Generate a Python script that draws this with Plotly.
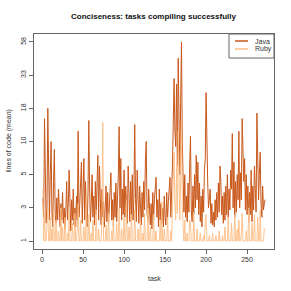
import numpy as np
import plotly.graph_objects as go

# Tick labels of the (transformed) y axis
tick_labels = [1, 3, 5, 10, 18, 33, 58]

# Mean lines of code per task
java = [
    3.5, 2.2, 15, 4, 1.8, 3, 18, 6, 2.0, 5,
    10, 2.6, 1.6, 4.5, 8.5, 2.4, 1.8, 3.5, 2.0, 4,
    2.6, 1.6, 3.2, 2.0, 3.8, 1.8, 3, 1.5, 2.8, 4.5,
    2.0, 3.2, 5.5, 1.8, 1.4, 3.4, 2.0, 4, 1.7, 3,
    1.6, 3.6, 2.0, 12, 2.2, 3.2, 4.2, 6.5, 1.8, 3.5,
    7, 2.0, 4.5, 2.4, 1.6, 3.8, 14.5, 4, 1.9, 3.2,
    5, 2.2, 3.6, 1.7, 4.5, 2.4, 5.5, 7.5, 2.0, 6,
    3.5, 1.7, 4, 2.2, 3.3, 1.6, 3, 4.2, 1.9, 3.8,
    1.8, 3, 4, 5.2, 2.0, 3.4, 1.6, 3.8, 2.2, 4.4,
    1.9, 3.2, 5, 13, 3.0, 7, 2.0, 4, 2.4, 5.5,
    2.2, 4.2, 2.8, 1.8, 6, 2.6, 1.9, 4.5, 2.4, 5,
    2.0, 3.6, 13.5, 3.4, 1.9, 5.5, 2.6, 1.8, 4.2, 2.4,
    1.7, 3.8, 2.2, 4.5, 2.8, 6.5, 10, 2.6, 1.9, 4,
    3.0, 1.7, 3.2, 1.5, 3.8, 2.0, 3.4, 4.2, 4.8, 2.2,
    3.4, 1.6, 4, 2.0, 3.2, 1.8, 3, 1.6, 3.6, 2.2,
    1.7, 3.8, 2.0, 3.3, 4.2, 4.8, 2.2, 3.5, 6, 14,
    31, 12, 9, 28, 6, 44, 15, 5, 20, 58,
    10, 4.5, 2.6, 5, 2.2, 3.6, 1.9, 4.4, 2.6, 6,
    11, 2.8, 1.9, 4.2, 2.4, 5, 3.0, 7.5, 3.4, 6.5,
    2.4, 4.4, 1.9, 3.6, 1.6, 4, 2.6, 5.5, 7, 24,
    6, 4.4, 3.0, 3.4, 4, 1.8, 3.2, 1.7, 2.6, 1.6,
    3.4, 2.0, 3.8, 2.2, 4.4, 2.6, 6, 4.5, 2.4, 3.6,
    1.8, 3.8, 2.0, 4.2, 2.4, 5, 2.2, 4, 2.8, 5.5,
    4, 11.5, 3.0, 6.5, 2.2, 4.5, 2.6, 5, 3.4, 12,
    3.0, 5.2, 3.4, 15, 9.5, 4.5, 7, 2.8, 5, 2.4,
    4.2, 1.9, 3.8, 2.4, 5.5, 1.9, 4.2, 2.8, 6, 4.4,
    2.6, 16.5, 7, 3.4, 5, 8, 3.2, 2.2, 4.2, 2.8,
    3.2, 3.4,
]

ruby = [
    4, 1, 2.5, 1, 1, 1.8, 3, 1, 1, 2.2,
    1, 1.5, 1, 2.8, 1, 1, 2, 1, 1, 1.4,
    1, 1, 3, 1, 1.6, 1, 1, 2.2, 1, 1,
    1.3, 1, 2.6, 1, 1, 1, 1.8, 1, 1, 2.5,
    1, 1, 1.5, 3.2, 1, 1, 2, 1, 1, 1,
    1.6, 1, 1, 3.7, 1, 1, 2.4, 1, 1, 1.3,
    1, 2, 1, 1, 1, 2.8, 1, 1, 1.5, 1,
    1, 1, 2.2, 14, 1, 1, 1, 1.7, 1, 1,
    2.5, 1, 1, 1, 1.4, 1, 2, 1, 1, 1,
    1.8, 1, 1, 3, 1, 1, 1.5, 1, 1, 2.2,
    1, 1, 3.4, 1, 1, 1.6, 1, 1, 2.4, 1,
    1, 1, 2.8, 1, 1, 1, 1.5, 1, 1, 2,
    1, 1, 1.3, 1, 2.5, 1, 1, 1, 3, 1,
    1, 1.6, 1, 1, 1, 2.4, 1, 1, 1.4, 1,
    1, 1, 1, 2, 1, 3.3, 1, 1, 1.5, 1,
    1, 1, 2.2, 1, 1, 1, 1.4, 1, 2.8, 4,
    8, 3, 2, 6, 2.5, 12, 4, 2, 5, 14,
    3, 1.5, 1, 2, 1, 1, 1.3, 1, 1, 2,
    1.7, 1, 1, 1, 2.6, 1, 1, 1, 1.5, 1,
    1, 1, 1.3, 1, 1, 1, 1.2, 1, 2, 2.4,
    1, 1, 1, 1.2, 1, 1, 1, 1.3, 1, 1,
    1, 1.2, 1, 1, 1, 1.4, 1, 1, 1, 1.2,
    1, 1, 1.6, 1, 1, 1, 2.2, 1, 1, 1,
    1.8, 1, 1, 1, 2.4, 1, 1, 1.5, 1, 2,
    1, 1, 1.3, 2.5, 1, 1, 1, 1, 1.4, 1,
    1, 3, 1, 1, 1, 1.8, 1, 1, 2.4, 1,
    1, 1, 2.2, 1, 1, 2.8, 1, 1, 1, 1,
    1.5, 1.5,
]

series_names = ["Java", "Ruby"]
tasks = list(range(1, len(java) + 1))


def to_axis(vals):
    """Map lines of code onto the chart's piecewise-log axis."""
    return np.interp(np.log(vals), np.log(tick_labels), np.arange(len(tick_labels)))


FONT = "Liberation Sans, Arial, Helvetica, sans-serif"
JAVA_COLOR = "#c9581a"
RUBY_COLOR = "#fdbe85"
AXIS_COLOR = "#666"
TEXT_COLOR = "#333"

# plot box in pixels (291x291 canvas)
L, R, T, B = 34, 274, 34, 249
W, H = 291, 291
pw, ph = R - L, B - T

fig = go.Figure()
fig.add_trace(go.Scatter(x=tasks, y=to_axis(java), mode="lines", name=series_names[0],
                         line=dict(color=JAVA_COLOR, width=1)))
fig.add_trace(go.Scatter(x=tasks, y=to_axis(ruby), mode="lines", name=series_names[1],
                         line=dict(color=RUBY_COLOR, width=1), opacity=0.9))

axis_common = dict(showline=True, mirror=True, linecolor=AXIS_COLOR, linewidth=1,
                   ticks="outside", ticklen=4, tickcolor=AXIS_COLOR, tickwidth=1,
                   showgrid=False, zeroline=False, automargin=False,
                   tickfont=dict(size=7, color=TEXT_COLOR, family=FONT))

n = len(tasks)
pad = 0.04 * (n - 1)
fig.update_xaxes(range=[1 - pad, n + pad], tickvals=[0, 50, 100, 150, 200, 250],
                 **axis_common)
fig.update_yaxes(range=[-0.24, 6.24], tickvals=list(range(len(tick_labels))),
                 ticktext=[str(t) for t in tick_labels], tickangle=-90,
                 **axis_common)

annotations = [
    dict(text="<b>Conciseness: tasks compiling successfully</b>", xref="paper", yref="paper",
         x=0.5, y=1 + (T - 17) / ph, xanchor="center", yanchor="middle", showarrow=False,
         font=dict(size=8, color="#111", family=FONT)),
    dict(text="task", xref="paper", yref="paper", x=0.5, y=-(278 - B) / ph,
         xanchor="center", yanchor="middle", showarrow=False,
         font=dict(size=7, color=TEXT_COLOR, family=FONT)),
    dict(text="lines of code (mean)", xref="paper", yref="paper", x=-(L - 8) / pw, y=0.5,
         xanchor="center", yanchor="middle", textangle=-90, showarrow=False,
         font=dict(size=7, color=TEXT_COLOR, family=FONT)),
]

# legend (top right, R style box)
shapes = [dict(type="rect", xref="paper", yref="paper",
               x0=(229 - L) / pw, x1=1, y0=1 - (58 - T) / ph, y1=1,
               line=dict(color=AXIS_COLOR, width=1), fillcolor="white", layer="above")]
for i, (name, col) in enumerate(zip(series_names, [JAVA_COLOR, RUBY_COLOR])):
    yy = 1 - (41 + 8 * i - T) / ph
    shapes.append(dict(type="line", xref="paper", yref="paper",
                       x0=(235 - L) / pw, x1=(248 - L) / pw, y0=yy, y1=yy,
                       line=dict(color=col, width=1.5), layer="above"))
    annotations.append(dict(text=name, xref="paper", yref="paper",
                            x=(253 - L) / pw, y=yy, xanchor="left", yanchor="middle",
                            showarrow=False,
                            font=dict(size=7, color=TEXT_COLOR, family=FONT)))

fig.update_layout(
    width=W, height=H,
    margin=dict(l=L, r=W - R, t=T, b=H - B, autoexpand=False),
    paper_bgcolor="white", plot_bgcolor="white",
    showlegend=False,
    hovermode=False,
    annotations=annotations,
    shapes=shapes,
)

fig.write_html("out.html", config={"displayModeBar": False, "staticPlot": True},
               post_script="document.body.style.margin='0px';document.body.style.padding='0px';")
